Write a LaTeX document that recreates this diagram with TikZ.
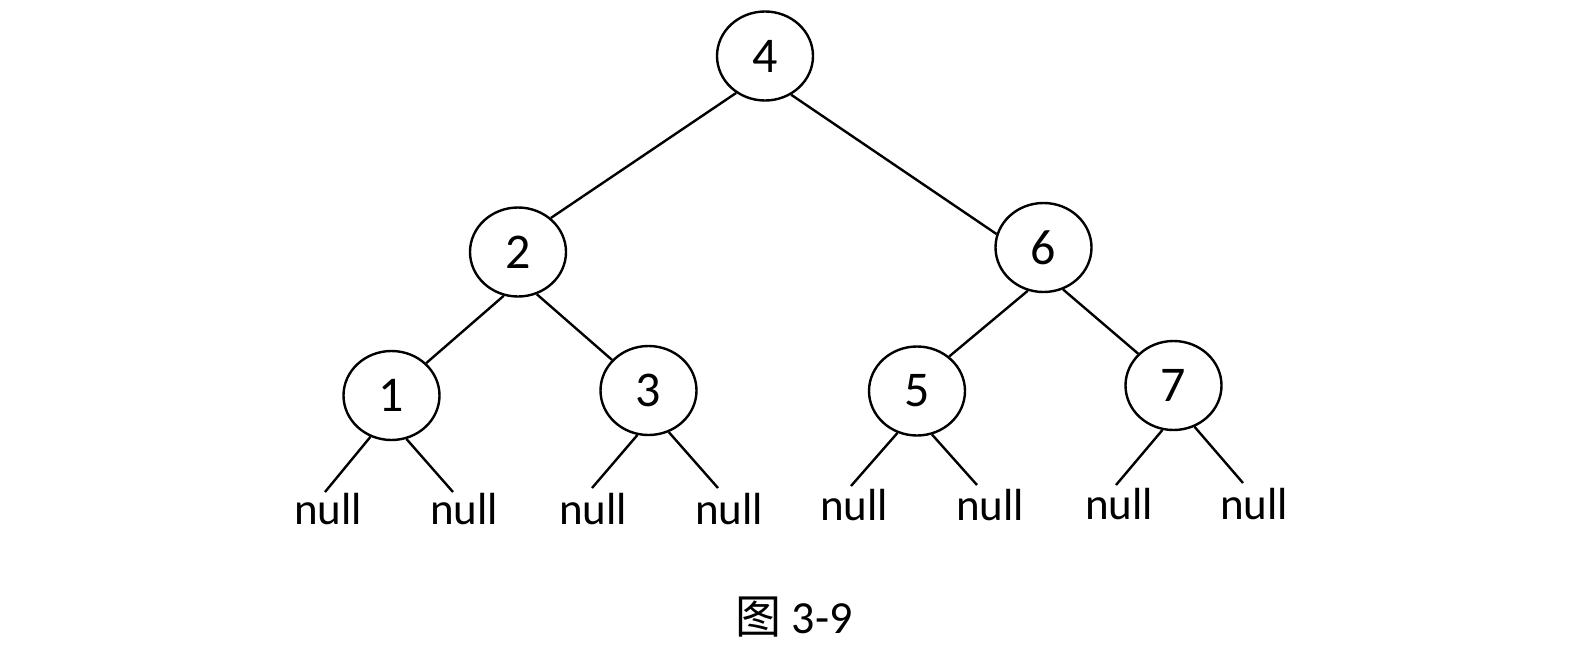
\documentclass[tikz,border=0pt]{standalone}
\usepackage{fontspec}
\setmainfont{Carlito}
\newfontfamily\cjk{Noto Sans CJK SC}
\usetikzlibrary{shapes.geometric}
\begin{document}
\begin{tikzpicture}[x=1pt,y=-1pt,
  tn/.style={draw,ellipse,line width=2.4pt,minimum width=96pt,minimum height=89pt,inner sep=0pt,font=\fontsize{50}{54}\selectfont},
  nl/.style={anchor=base,inner sep=0pt,font=\fontsize{45}{48}\selectfont},
  edge/.style={line width=2.4pt}]
\useasboundingbox (0,0) rectangle (1592,653);
\node[tn] (n4) at (765,56) {4};
\node[tn] (n2) at (518,252) {2};
\node[tn] (n6) at (1043.5,247.5) {6};
\node[tn] (n1) at (391.5,395.5) {1};
\node[tn] (n3) at (648.5,390.5) {3};
\node[tn] (n5) at (917,391) {5};
\node[tn] (n7) at (1173.5,385.5) {7};
\node[nl] (l1a) at (328,524) {null};
\node[nl] (l1b) at (464,524) {null};
\node[nl] (l3a) at (593,524) {null};
\node[nl] (l3b) at (729,524) {null};
\node[nl] (l5a) at (854,520) {null};
\node[nl] (l5b) at (990,520) {null};
\node[nl] (l7a) at (1119,519) {null};
\node[nl] (l7b) at (1254,519) {null};
\coordinate (e1a) at (325,492);
\coordinate (e1b) at (453,492);
\coordinate (e3a) at (592,488);
\coordinate (e3b) at (718,488);
\coordinate (e5a) at (851,486);
\coordinate (e5b) at (977,485);
\coordinate (e7a) at (1116,485);
\coordinate (e7b) at (1243,483);
\draw[edge] (n4.232) -- (n2.46);
\draw[edge] (n4.304) -- (n6.164);
\draw[edge] (n2.252) -- (n1.43);
\draw[edge] (n2.294) -- (n3.140);
\draw[edge] (n6.250) -- (n5.47);
\draw[edge] (n6.295) -- (n7.138);
\draw[edge] (n1.243) -- (e1a);
\draw[edge] (n1.289) -- (e1b);
\draw[edge] (n3.256) -- (e3a);
\draw[edge] (n3.296) -- (e3b);
\draw[edge] (n5.245) -- (e5a);
\draw[edge] (n5.289) -- (e5b);
\draw[edge] (n7.256) -- (e7a);
\draw[edge] (n7.297) -- (e7b);
\node[anchor=base,inner sep=0pt,font=\fontsize{46}{50}\selectfont] (cap) at (794,633) {{\cjk 图} 3-9};
\end{tikzpicture}
\end{document}
